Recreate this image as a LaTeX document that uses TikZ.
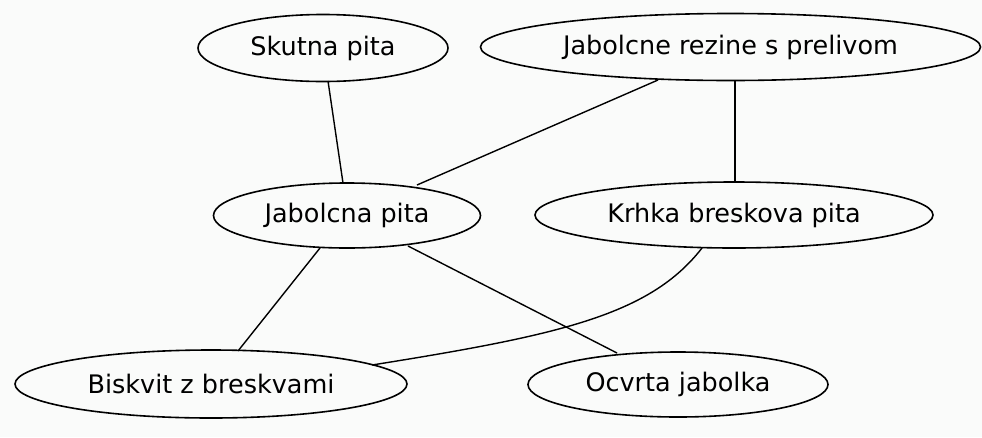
\documentclass[tikz,border=0pt]{standalone}
\usepackage{fontspec}
\setmainfont{DejaVu Sans}
\usetikzlibrary{shapes.geometric}
\definecolor{bgc}{RGB}{250,251,250}
\begin{document}
\begin{tikzpicture}[x=1pt,y=-1pt,
  dish/.style={draw, ellipse, line width=1.6pt, inner sep=0pt, font=\fontsize{25.5}{28}\selectfont},
  link/.style={line width=1.4pt}]
\fill[bgc] (0,0) rectangle (982,437);
\useasboundingbox (0,0) rectangle (982,437);
\node[dish, minimum width=250pt, minimum height=67pt] (sk) at (323,48) {Skutna pita};
\node[dish, minimum width=500pt, minimum height=67pt] (jr) at (730.5,47) {Jabolcne rezine s prelivom};
\node[dish, minimum width=267pt, minimum height=65pt] (jp) at (347,215.5) {Jabolcna pita};
\node[dish, minimum width=398pt, minimum height=66pt] (kb) at (734,215) {Krhka breskova pita};
\node[dish, minimum width=392pt, minimum height=68pt] (bb) at (211,384) {Biskvit z breskvami};
\node[dish, minimum width=300pt, minimum height=65pt] (oj) at (678,384.5) {Ocvrta jabolka};
\coordinate (a1) at (328,81);
\coordinate (a2) at (343,183);
\coordinate (b1) at (658,80);
\coordinate (b2) at (417,185);
\coordinate (c1) at (735,80);
\coordinate (c2) at (735,182);
\coordinate (d1) at (320,248);
\coordinate (d2) at (238,351);
\coordinate (e1) at (408,246);
\coordinate (e2) at (617,353);
\coordinate (f1) at (702,248);
\coordinate (f2) at (372,365);
\draw[link] (a1) -- (a2);
\draw[link] (b1) -- (b2);
\draw[link] (c1) -- (c2);
\draw[link] (d1) -- (d2);
\draw[link] (e1) -- (e2);
\draw[link] (f1) .. controls (650,315) and (560,335) .. (f2);
\end{tikzpicture}
\end{document}
